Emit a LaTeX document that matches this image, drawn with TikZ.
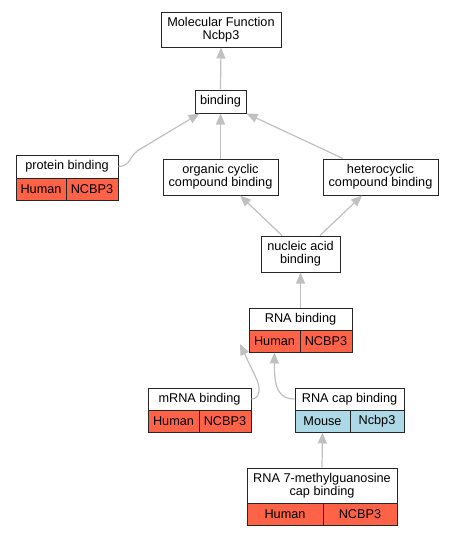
\documentclass[tikz,border=0pt]{standalone}
\usepackage{fontspec}
\setmainfont{Liberation Sans}
\usetikzlibrary{arrows.meta}
\definecolor{hum}{HTML}{FF6347}
\definecolor{mou}{HTML}{ADD8E6}
\definecolor{edg}{HTML}{C0C0C0}
\tikzset{
  box/.style={draw=black!85, line width=1pt, fill=white, inner sep=0pt, align=center,
    font=\fontsize{12.7}{13.4}\selectfont},
  hcell/.style={box, fill=hum},
  mcell/.style={box, fill=mou},
  edge/.style={draw=edg, line width=1.2pt, -{Triangle[length=11pt,width=9pt]}, shorten >=0pt}
}
\begin{document}
\begin{tikzpicture}[x=1pt,y=-1pt]
\useasboundingbox (0,0) rectangle (455,536);
% nodes
\node[box, minimum width=120, minimum height=35] (mf) at (221,29.5) {Molecular Function\\Ncbp3};
\node[box, minimum width=51, minimum height=23] (bind) at (220.5,101.5) {binding};
\node[box, minimum width=102, minimum height=23] (pb) at (67,166.5) {protein binding};
\node[hcell, minimum width=50, minimum height=22] (pbh) at (41,189) {Human};
\node[hcell, minimum width=52, minimum height=22] (pbg) at (92,189) {NCBP3};
\node[box, minimum width=115, minimum height=36] (oc) at (220.5,177) {organic cyclic\\compound binding};
\node[box, minimum width=115, minimum height=36] (hc) at (380.5,177) {heterocyclic\\compound binding};
\node[box, minimum width=79, minimum height=36] (na) at (300.5,254) {nucleic acid\\binding};
\node[box, minimum width=103, minimum height=22] (rb) at (300.5,319) {RNA binding};
\node[hcell, minimum width=51, minimum height=22] (rbh) at (274.5,341) {Human};
\node[hcell, minimum width=52, minimum height=22] (rbg) at (326,341) {NCBP3};
\node[box, minimum width=103, minimum height=22] (mr) at (199.5,399) {mRNA binding};
\node[hcell, minimum width=51, minimum height=22] (mrh) at (173.5,421) {Human};
\node[hcell, minimum width=52, minimum height=22] (mrg) at (225,421) {NCBP3};
\node[box, minimum width=109, minimum height=22] (rc) at (349.5,399) {RNA cap binding};
\node[mcell, minimum width=55, minimum height=22] (rcm) at (322.5,421) {Mouse};
\node[mcell, minimum width=54, minimum height=22] (rcg) at (377,421) {Ncbp3};
\node[box, minimum width=150, minimum height=35] (r7) at (322,485.5) {RNA 7-methylguanosine\\cap binding};
\node[hcell, minimum width=76, minimum height=22] (r7h) at (285,514) {Human};
\node[hcell, minimum width=74, minimum height=22] (r7g) at (360,514) {NCBP3};
\coordinate (mrtip) at (240,344);
% edges
\draw[edge] (bind.north) -- (mf.south);
\draw[edge] (pb.east) .. controls (132,166) and (128,155) .. (142,148) -- ([xshift=5]bind.south west);
\draw[edge] (oc.north) -- (bind.south);
\draw[edge] ([xshift=-37.5]hc.north) -- (bind.south east);
\draw[edge] ([xshift=-18.5]na.north) -- ([xshift=19.5]oc.south);
\draw[edge] ([xshift=19.5]na.north) -- ([xshift=-18.5]hc.south);
\draw[edge] (rb.north) -- (na.south);
\draw[edge] (mr.east) .. controls (259,399) and (261,390) .. (257,380) -- (mrtip);
\draw[edge] (rc.west) .. controls (280,399) and (274,390) .. (rbh.south);
\draw[edge] (r7.north) -- (rcm.south);
\end{tikzpicture}
\end{document}
